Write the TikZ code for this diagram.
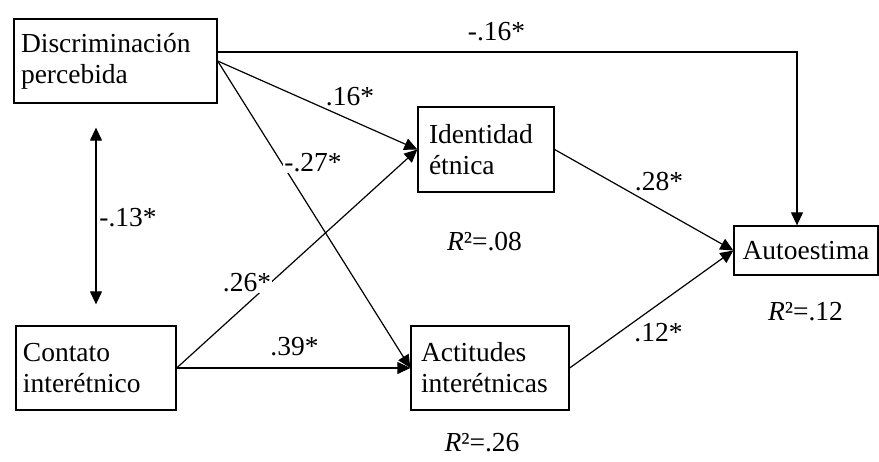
\documentclass[tikz,border=0pt]{standalone}
\usepackage{fontspec}
\setmainfont{Liberation Serif}
\usetikzlibrary{arrows.meta}
\begin{document}
\begin{tikzpicture}[x=1pt,y=-1pt,
  every node/.style={font=\fontsize{27.5}{31}\selectfont},
  box/.style={draw, line width=1.3pt, inner ysep=0pt, align=left},
  lbl/.style={inner sep=1pt},
  lblw/.style={inner sep=1pt, fill=white},
  arr/.style={line width=1.2pt, -{Triangle[length=13pt,width=12pt]}},
  dbl/.style={line width=1.2pt, {Triangle[length=13pt,width=12pt]}-{Triangle[length=13pt,width=12pt]}}]
\useasboundingbox (0,0) rectangle (879,461);
% boxes
\node[box, inner xsep=7pt, text width=189pt, minimum height=84pt] (disc) at (115.5,61) {Discriminación\\percebida};
\node[box, inner xsep=11pt, text width=114pt, minimum height=85pt] (iden) at (486,149.5) {Identidad\\étnica};
\node[box, inner xsep=10pt, text width=138pt, minimum height=84pt] (act) at (490,368) {Actitudes\\interétnicas};
\node[box, inner xsep=7pt, text width=146pt, minimum height=84pt] (cont) at (96,368) {Contato\\interétnico};
\node[box, inner xsep=0pt, minimum width=144pt, minimum height=49pt] (auto) at (806,250.5) {Autoestima};
% connectors
\draw[arr] ([yshift=9pt]disc.east) -| ([xshift=-9pt]auto.north);
\draw[arr] (disc.east) -- (iden.west);
\draw[arr] (disc.east) -- (act.west);
\draw[arr] (cont.east) -- (iden.west);
\draw[arr] (cont.east) -- (act.west);
\draw[arr] (iden.east) -- (auto.west);
\draw[arr] (act.east) -- (auto.west);
\draw[dbl, shorten <=24pt, shorten >=21pt] (cont.north |- disc.south) -- (cont.north);
% labels
\node[lbl]  (l1)  at (496.5,32) {-.16*};
\node[lblw] (l2)  at (350,97)   {.16*};
\node[lblw] (l3)  at (313,163)  {-.27*};
\node[lbl]  (l4)  at (128,218)  {-.13*};
\node[lbl]  (r1)  at (484.5,242) {\itshape R\upshape ²=.08};
\node[lblw] (l5)  at (659,182)  {.28*};
\node[lblw] (l6)  at (247,283)  {.26*};
\node[lbl]  (l7)  at (294.5,347) {.39*};
\node[lblw] (l8)  at (658.5,333) {.12*};
\node[lbl]  (r2)  at (805.5,312) {\itshape R\upshape ²=.12};
\node[lbl]  (r3)  at (482,443)  {\itshape R\upshape ²=.26};
\end{tikzpicture}
\end{document}
